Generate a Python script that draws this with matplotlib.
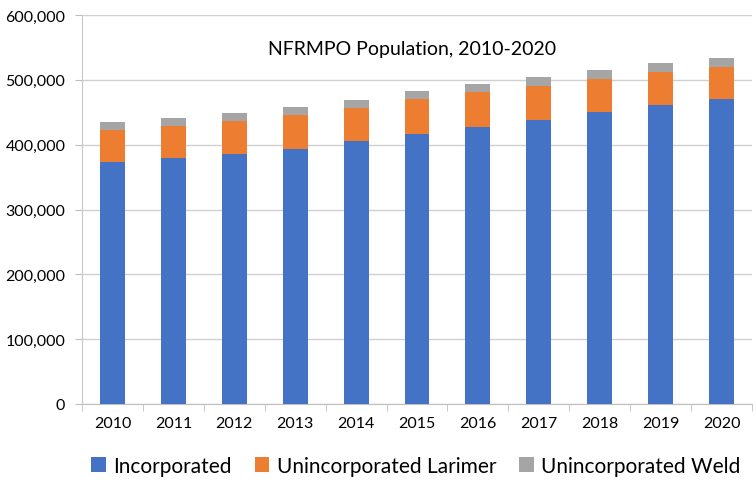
import matplotlib
matplotlib.use("Agg")
import matplotlib.pyplot as plt
import numpy as np
from matplotlib.ticker import FuncFormatter, FixedLocator

plt.rcParams['font.family'] = ['Lato', 'DejaVu Sans']

years = ["2010", "2011", "2012", "2013", "2014", "2015", "2016", "2017", "2018", "2019", "2020"]
incorporated = [373000, 379000, 386000, 394000, 405000, 417000, 428000, 438000, 450000, 461000, 470000]
unincorporated_larimer = [49000, 50000, 50000, 51000, 51500, 53000, 52700, 53000, 52000, 51000, 50000]
unincorporated_weld = [13000, 12000, 13500, 13000, 12500, 13000, 13000, 12600, 12400, 13200, 13300]

series_names = ["Incorporated", "Unincorporated Larimer", "Unincorporated Weld"]
colors = ["#4472C4", "#ED7D31", "#A5A5A5"]

fig = plt.figure(figsize=(7.56, 4.85), dpi=100)
ax = fig.add_axes([82/756, 1 - 405/485, (752-82)/756, (405-16)/485])

x = np.arange(len(years))
inc = np.array(incorporated)
lar = np.array(unincorporated_larimer)
wel = np.array(unincorporated_weld)
w = 0.41
ax.bar(x, inc, w, color=colors[0], label=series_names[0], zorder=3)
ax.bar(x, lar, w, bottom=inc, color=colors[1], label=series_names[1], zorder=3)
ax.bar(x, wel, w, bottom=inc + lar, color=colors[2], label=series_names[2], zorder=3)

ax.set_xlim(-0.5, len(years) - 0.5)
ax.set_ylim(0, 600000)
ax.set_yticks(np.arange(0, 600001, 100000))
ax.yaxis.set_major_formatter(FuncFormatter(lambda v, p: f"{int(v):,}"))
ax.grid(axis='y', color='#D0D0D0', linewidth=1, zorder=0)

ax.set_xticks(x)
ax.set_xticklabels(years)
ax.xaxis.set_minor_locator(FixedLocator(np.arange(-0.5, len(years), 1.0)))
ax.tick_params(axis='x', which='major', length=0, pad=9, labelsize=11.5, colors='black')
ax.tick_params(axis='x', which='minor', length=5, color='#BFBFBF')
ax.tick_params(axis='y', length=5, color='#BFBFBF', labelsize=11.5, pad=7)

for s in ['top', 'right']:
    ax.spines[s].set_visible(False)
ax.spines['left'].set_color('#C8C8C8')
ax.spines['bottom'].set_color('#BFBFBF')

ax.text(0.493, 0.915, "NFRMPO Population, 2010-2020", transform=ax.transAxes,
        ha='center', va='center', fontsize=14)

fig.legend(loc='center', bbox_to_anchor=(0.55, 1 - 467/485), ncol=3, frameon=False,
           fontsize=15, handlelength=0.7, handleheight=0.7, handletextpad=0.35,
           columnspacing=1.1)

fig.savefig("out.png", dpi=100)
